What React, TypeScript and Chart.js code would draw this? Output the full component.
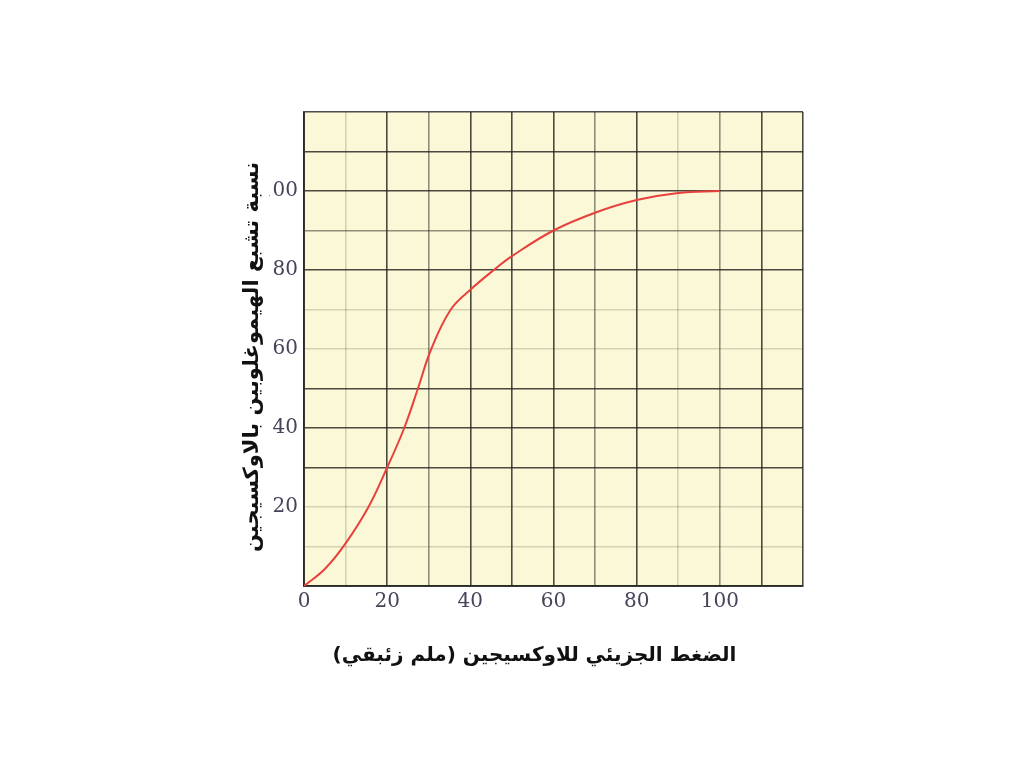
import React, { useEffect, useRef } from 'react';
import { Chart, registerables } from 'chart.js';

Chart.register(...registerables);

// Data (oxygen–haemoglobin dissociation curve)
const pressure = [0, 5, 10, 15.5, 20, 24.1, 27.4, 30.6, 35.3, 40, 46, 50, 60, 70, 80, 90, 100];
const saturation = [0, 4.3, 10.8, 20, 30, 40, 50, 60, 70, 75, 80.3, 83.5, 90, 94.5, 97.7, 99.5, 100];
const xTickLabels = [0, 20, 40, 60, 80, 100];
const yTickLabels = [20, 40, 60, 80, 100];
const xTitle = 'الضغط الجزيئي للاوكسيجين (ملم زئبقي)';
const yTitle = 'نسبة تشبع الهيموغلوبين بالاوكسيجين';

const DARK = 'rgba(35,35,30,0.82)';
const MED = 'rgba(35,35,30,0.5)';
const LIGHT = 'rgba(60,60,30,0.2)';

function vShade(v: number) {
  if (v === 10 || v === 90) return LIGHT;
  if (v === 30 || v === 70 || v === 100) return MED;
  return DARK;
}
function hShade(v: number) {
  if (v === 10 || v === 20 || v === 60 || v === 70) return LIGHT;
  if (v === 90) return MED;
  return DARK;
}

const decor = {
  id: 'decor',
  beforeDraw(chart: any) {
    const { ctx, chartArea } = chart;
    const { left, top, right, bottom } = chartArea;
    ctx.save();
    ctx.fillStyle = '#fbf8d7';
    ctx.fillRect(left, top, right - left, bottom - top);
    ctx.restore();
  },
  afterDraw(chart: any) {
    const { ctx, chartArea } = chart;
    const a = chartArea;
    ctx.save();
    ctx.fillStyle = '#111111';
    ctx.textAlign = 'center';
    ctx.textBaseline = 'middle';
    ctx.font = 'bold 20px "DejaVu Sans"';
    ctx.fillText(xTitle, (a.left + a.right) / 2 - 19, a.bottom + 70);
    ctx.font = 'bold 21px "DejaVu Sans"';
    ctx.translate(a.left - 51, (a.top + a.bottom) / 2 + 8);
    ctx.rotate(-Math.PI / 2);
    const w = ctx.measureText(yTitle).width;
    ctx.fillStyle = '#ffffff';
    ctx.fillRect(-w / 2 - 4, -16, w + 8, 32);
    ctx.fillStyle = '#111111';
    ctx.fillText(yTitle, 0, 0);
    ctx.restore();
  },
};

export default function App() {
  const ref = useRef<HTMLCanvasElement | null>(null);

  useEffect(() => {
    if (!ref.current) return;
    const points = pressure.map((x, i) => ({ x, y: saturation[i] }));
    const tickFont = { family: '"DejaVu Serif", "Liberation Serif", serif', size: 20 };
    const chart = new Chart(ref.current, {
      type: 'line',
      data: {
        datasets: [
          {
            data: points,
            borderColor: '#e8413c',
            borderWidth: 2,
            pointRadius: 0,
            tension: 0.4,
            fill: false,
          },
        ],
      },
      options: {
        responsive: false,
        animation: false,
        layout: { padding: { left: 230, right: 221, top: 112, bottom: 132 } },
        plugins: {
          legend: { display: false },
          tooltip: { enabled: false },
          title: { display: false },
        },
        scales: {
          x: {
            type: 'linear',
            min: 0,
            max: 120,
            afterFit: (s: any) => {
              s.height = 50;
            },
            ticks: {
              stepSize: 10,
              autoSkip: false,
              maxRotation: 0,
              padding: 4,
              color: '#44445a',
              font: tickFont,
              callback: (v: any) => (xTickLabels.includes(Number(v)) ? String(v) : ''),
            },
            grid: {
              drawTicks: false,
              lineWidth: 1.6,
              color: (c: any) => vShade(c.tick ? c.tick.value : 0),
            },
            border: { display: true, color: DARK, width: 2 },
          },
          y: {
            type: 'linear',
            min: 0,
            max: 120,
            afterFit: (s: any) => {
              s.width = 74;
            },
            ticks: {
              stepSize: 10,
              autoSkip: false,
              padding: 6,
              color: '#44445a',
              font: tickFont,
              callback: (v: any) => (yTickLabels.includes(Number(v)) ? String(v) : ''),
            },
            grid: {
              drawTicks: false,
              lineWidth: 1.6,
              color: (c: any) => hShade(c.tick ? c.tick.value : 0),
            },
            border: { display: true, color: DARK, width: 2 },
          },
        },
      } as any,
      plugins: [decor],
    });
    return () => chart.destroy();
  }, []);

  return (
    <div style={{ position: 'absolute', left: 0, top: 0, width: 1024, height: 768, background: '#ffffff' }}>
      <canvas ref={ref} width={1024} height={768} style={{ display: 'block' }} />
    </div>
  );
}
